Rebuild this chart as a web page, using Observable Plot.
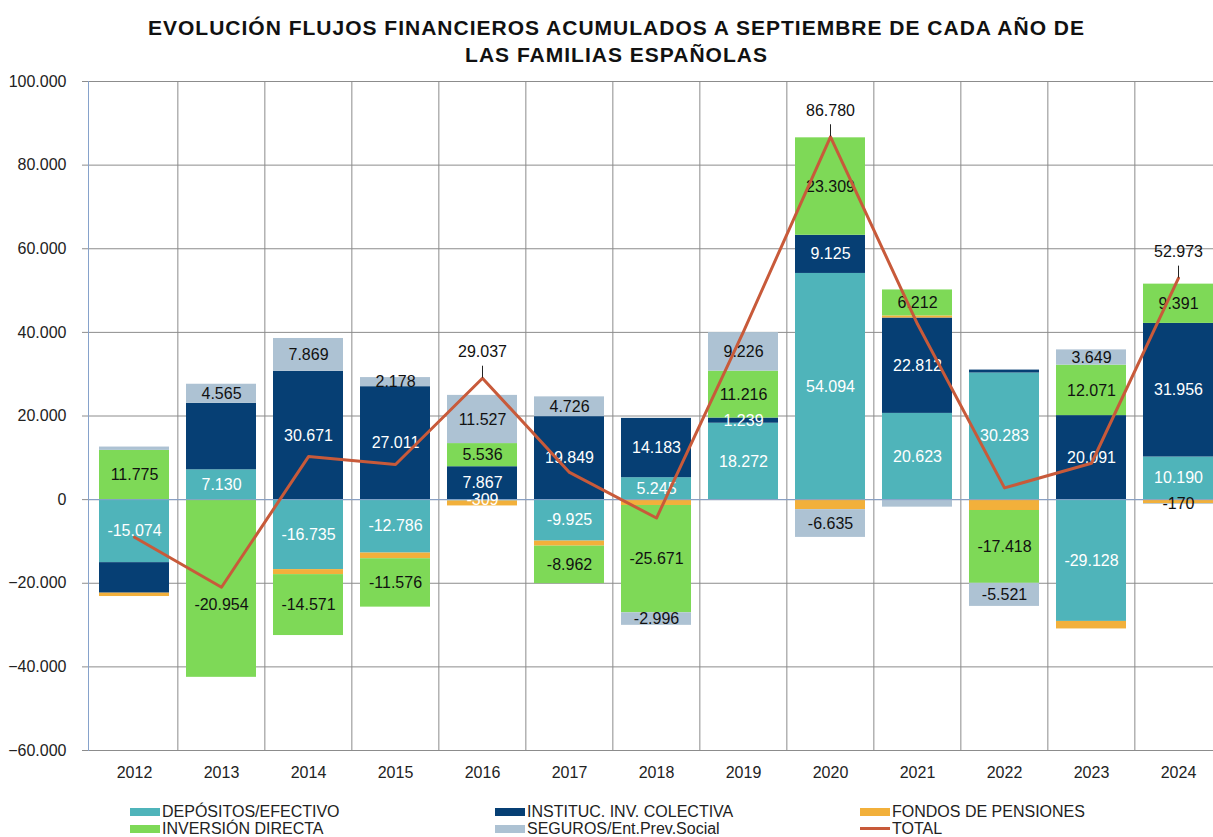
<!DOCTYPE html>
<html><head><meta charset="utf-8">
<script src="https://cdn.jsdelivr.net/npm/d3@7"></script>
<script src="https://cdn.jsdelivr.net/npm/@observablehq/plot@0.6"></script>
<style>
body{margin:0;background:#fff;overflow:hidden;font-family:"Liberation Sans",Arial,sans-serif;}
#wrap{position:relative;width:1213px;height:837px;overflow:hidden;}
#title{position:absolute;left:10px;width:1213px;top:14px;text-align:center;font-weight:bold;font-size:21px;letter-spacing:1px;line-height:27px;color:#111;}
#chart{position:absolute;left:0;top:0;}
.leg{position:absolute;font-size:16px;line-height:17px;color:#222;white-space:nowrap;}
.sw{display:inline-block;width:30px;height:8px;margin-right:2px;vertical-align:1px;}
.ln{display:inline-block;width:30px;height:3px;margin-right:2px;vertical-align:4px;}
</style></head>
<body>
<div id="wrap">
  <div id="chart"></div>
  <div id="title">EVOLUCIÓN FLUJOS FINANCIEROS ACUMULADOS A SEPTIEMBRE DE CADA AÑO DE<br>LAS FAMILIAS ESPAÑOLAS</div>
  <div id="legend"></div>
</div>
<script>
// ---- data ----
const years = ["2012","2013","2014","2015","2016","2017","2018","2019","2020","2021","2022","2023","2024"];
const seriesNames = ["DEPÓSITOS/EFECTIVO","INSTITUC. INV. COLECTIVA","FONDOS DE PENSIONES","INVERSIÓN DIRECTA","SEGUROS/Ent.Prev.Social"];
const totalName = "TOTAL";

const depositos   = [-15074, 7130, -16735, -12786, -309, -9925, 5245, 18272, 54094, 20623, 30283, -29128, 10190];
const institucion = [-7300, 15900, 30671, 27011, 7867, 19849, 14183, 1239, 9125, 22812, 700, 20091, 31956];
const fondos      = [-800, 0, -1200, -1350, -1200, -1200, -1400, 0, -2400, 500, -2600, -1800, -1000];
const inversion   = [11775, -42500, -14571, -11576, 5536, -8962, -25671, 11216, 23309, 6212, -17418, 12071, 9391];
const seguros     = [800, 4565, 7869, 2178, 11527, 4726, -2996, 9226, -6635, -1800, -5521, 3649, -170];
const total       = [-9000, -20954, 10300, 8400, 29037, 6500, -4400, 40200, 86780, 42000, 2800, 8700, 52973];

const depositosLabels   = ["-15.074","7.130","-16.735","-12.786","-309","-9.925","5.245","18.272","54.094","20.623","30.283","-29.128","10.190"];
const institucionLabels = [null,null,"30.671","27.011","7.867","19.849","14.183","1.239","9.125","22.812",null,"20.091","31.956"];
const fondosLabels      = [null,null,null,null,null,null,null,null,null,null,null,null,null];
const inversionLabels   = ["11.775",null,"-14.571","-11.576","5.536","-8.962","-25.671","11.216","23.309","6.212","-17.418","12.071","9.391"];
const segurosLabels     = [null,"4.565","7.869","2.178","11.527","4.726","-2.996","9.226","-6.635",null,"-5.521","3.649","-170"];
const totalLabels       = [null,"-20.954",null,null,"29.037",null,null,null,"86.780",null,null,null,"52.973"];

const yTicks = [-60000,-40000,-20000,0,20000,40000,60000,80000,100000];

// ---- styles ----
const barColors  = ["#4fb4ba","#063f74","#f2b03b","#7ed957","#adc2d3"];
const textColors = ["#ffffff","#ffffff","#111111","#111111","#111111"];
const totalColor = "#c85a3a";

const valueSets = [depositos, institucion, fondos, inversion, seguros];
const labelSets = [depositosLabels, institucionLabels, fondosLabels, inversionLabels, segurosLabels];

const rows = [];
seriesNames.forEach((s, k) => {
  years.forEach((yr, i) => {
    rows.push({year: yr, series: s, value: valueSets[k][i], label: labelSets[k][i], fill: barColors[k], textFill: textColors[k]});
  });
});
const totRows = years.map((yr, i) => ({year: yr, total: total[i], label: totalLabels[i]}));

const loc = d3.formatLocale({decimal: ",", thousands: ".", grouping: [3], currency: ["", ""]});
const fmt = loc.format(",.0f");

const W = 1213, H = 837, left = 88, right = 1223;
const step = (right - left) / years.length;
const gridColor = "#8c8c8c";
const axisBlue = "#86a2cb";

const chart = Plot.plot({
  width: W, height: H,
  marginTop: 81, marginBottom: 87, marginLeft: left, marginRight: 0,
  style: {fontFamily: "'Liberation Sans', Arial, sans-serif", fontSize: "16px", color: "#222", background: "transparent"},
  x: {type: "band", domain: years, range: [left, right], paddingInner: 0.2, paddingOuter: 0.1},
  y: {domain: [-60000, 100000]},
  color: {type: "identity"},
  marks: [
    Plot.gridY({ticks: yTicks, stroke: gridColor, strokeOpacity: 1}),
    Plot.ruleX(years.slice(1), {x: d => d, dx: -step / 2, stroke: gridColor}),
    Plot.axisY({ticks: yTicks, tickFormat: fmt, tickSize: 6, tickPadding: 16, stroke: gridColor, fill: "#222", fontSize: 16, label: null}),
    Plot.axisX({tickSize: 0, tickPadding: 16, fill: "#222", fontSize: 16, label: null}),
    Plot.barY(rows, {x: "year", y: "value", z: "series", fill: "fill"}),
    Plot.ruleY([0], {stroke: axisBlue}),
    Plot.frame({anchor: "left", stroke: axisBlue}),
    Plot.text(rows, Plot.stackY({x: "year", y: "value", z: "series", text: "label", fill: "textFill", fontSize: 16})),
    Plot.line(totRows, {x: "year", y: "total", stroke: totalColor, strokeWidth: 3}),
    Plot.ruleX(totRows.filter(d => d.label && d.total > 0), {x: "year", y1: "total", y2: "total", insetTop: -12, stroke: "#222"}),
    Plot.text(totRows.filter(d => d.label && d.total > 0), {x: "year", y: "total", text: "label", dy: -26, fill: "#111", fontSize: 16}),
    Plot.text(totRows.filter(d => d.label && d.total < 0), {x: "year", y: "total", text: "label", dy: 18, fill: "#111", fontSize: 16})
  ]
});
document.getElementById("chart").appendChild(chart);

// ---- legend ----
const legendItems = [
  {name: seriesNames[0], color: barColors[0], col: 130, row: 812},
  {name: seriesNames[3], color: barColors[3], col: 130, row: 829},
  {name: seriesNames[1], color: barColors[1], col: 495, row: 812},
  {name: seriesNames[4], color: barColors[4], col: 495, row: 829},
  {name: seriesNames[2], color: barColors[2], col: 860, row: 812},
  {name: totalName, color: totalColor, col: 860, row: 829, line: true}
];
const legend = document.getElementById("legend");
legendItems.forEach(it => {
  const d = document.createElement("div");
  d.className = "leg";
  d.style.left = it.col + "px";
  d.style.top = (it.row - 9) + "px";
  const sw = document.createElement("span");
  sw.className = it.line ? "ln" : "sw";
  sw.style.background = it.color;
  d.appendChild(sw);
  d.appendChild(document.createTextNode(it.name));
  legend.appendChild(d);
});
</script>
</body></html>
